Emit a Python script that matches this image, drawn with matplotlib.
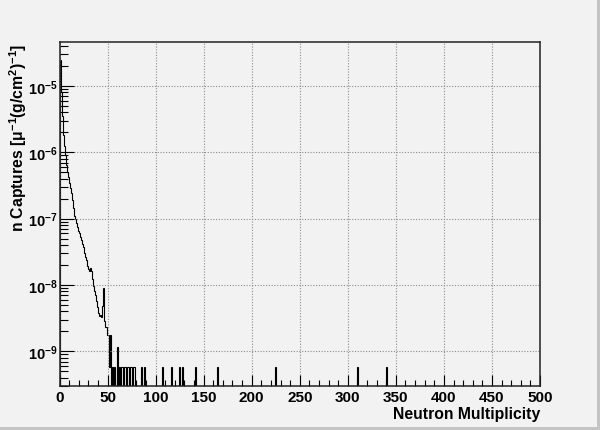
import numpy as np
import matplotlib
matplotlib.use("Agg")
import matplotlib.pyplot as plt
from matplotlib.ticker import LogLocator, MultipleLocator, FixedLocator
from matplotlib.patches import Rectangle

plt.rcParams['font.family'] = ['Liberation Sans', 'DejaVu Sans']
plt.rcParams['font.weight'] = 'bold'
plt.rcParams['mathtext.fontset'] = 'custom'
plt.rcParams['mathtext.rm'] = 'Liberation Sans:bold'
plt.rcParams['mathtext.bf'] = 'Liberation Sans:bold'
plt.rcParams['mathtext.it'] = 'Liberation Sans:bold'

# histogram content, 500 bins of width 1 from 0 to 500
n_bins = 500
x_lo, x_hi = 0, 500

# dense part of the spectrum, bins 0..50
dense_values = [
    0.0, 2.5e-5, 8.0e-6, 3.5e-6, 1.8e-6, 1.25e-6, 9.0e-7, 6.5e-7, 5.0e-7, 4.2e-7,
    3.4e-7, 2.9e-7, 2.4e-7, 1.9e-7, 1.45e-7, 1.1e-7, 1.0e-7, 8.7e-8, 7.6e-8, 6.6e-8,
    6.0e-8, 5.2e-8, 4.7e-8, 4.2e-8, 3.8e-8, 3.3e-8, 3.0e-8, 2.6e-8, 2.4e-8, 1.9e-8,
    1.75e-8, 1.6e-8, 1.8e-8, 1.65e-8, 1.25e-8, 9.5e-9, 8.0e-9, 7.0e-9, 5.8e-9, 4.7e-9,
    3.8e-9, 3.4e-9, 3.5e-9, 3.3e-9, 4.9e-9, 8.9e-9, 2.9e-9, 2.3e-9, 2.3e-9, 1.74e-9,
    1.74e-9,
]

# sparse tail: single events (and a couple of doubles/triples)
count_unit = 5.8e-10
tail_bins = [51, 52, 53, 55, 57, 60, 62, 64, 65, 67, 68, 70, 71, 73, 74, 77, 78,
             85, 88, 107, 116, 124, 127, 141, 164, 224, 310, 340]
tail_counts = [1, 1, 3, 1, 1, 2, 1, 1, 1, 1, 1, 1, 1, 1, 1, 1, 1,
               1, 1, 1, 1, 1, 1, 1, 1, 1, 1, 1]

y_lo, y_hi = 3.0e-10, 4.55e-5
y_major = [1e-9, 1e-8, 1e-7, 1e-6, 1e-5]
y_major_labels = [r'$10^{-9}$', r'$10^{-8}$', r'$10^{-7}$', r'$10^{-6}$', r'$10^{-5}$']

x_title = "Neutron Multiplicity"
y_title = "n Captures [μ$^{-1}$(g/cm$^{2}$)$^{-1}$]"

values = np.zeros(n_bins)
values[:len(dense_values)] = dense_values
for b, c in zip(tail_bins, tail_counts):
    values[b] = c * count_unit
edges = np.linspace(x_lo, x_hi, n_bins + 1)
# empty bins drop to the frame bottom like ROOT does
drawn = np.where(values > 0, values, y_lo * 1e-3)

bg = '#f2f2f2'
fig = plt.figure(figsize=(6.0, 4.31), dpi=100, facecolor=bg)
ax = fig.add_axes([59.5 / 600, 1 - 387 / 431, 480.5 / 600, 343.7 / 431])
ax.set_facecolor(bg)

ax.stairs(drawn, edges, color='black', linewidth=0.8, baseline=None)

ax.set_yscale('log')
ax.set_xlim(x_lo, x_hi)
ax.set_ylim(y_lo, y_hi)

ax.xaxis.set_major_locator(MultipleLocator(50))
ax.xaxis.set_minor_locator(MultipleLocator(10))
ax.yaxis.set_major_locator(FixedLocator(y_major))
ax.yaxis.set_minor_locator(LogLocator(base=10, subs=np.arange(2, 10), numticks=20))
ax.set_yticklabels(y_major_labels)
ax.yaxis.set_minor_formatter(plt.NullFormatter())

ax.tick_params(axis='x', which='major', direction='in', length=8, width=0.8,
               labelsize=11, pad=3, colors='black')
ax.tick_params(axis='x', which='minor', direction='in', length=4, width=0.8)
ax.tick_params(axis='y', which='major', direction='in', length=10, width=0.8,
               labelsize=10.5, pad=1)
ax.tick_params(axis='y', which='minor', direction='in', length=6, width=0.8)
for lab in ax.get_xticklabels() + ax.get_yticklabels():
    lab.set_fontweight('bold')

ax.grid(True, which='major', color='#8c8c8c', linestyle=(0, (1, 1.5)), linewidth=0.8)
for sp in ax.spines.values():
    sp.set_color('#222222')
    sp.set_linewidth(1.1)

ax.text(1.0, -0.094, x_title, transform=ax.transAxes, ha='right', va='baseline',
        fontsize=11.3, fontweight='bold')
ax.text(-0.087, 1.0, y_title, transform=ax.transAxes, rotation=90, ha='center',
        va='top', fontsize=11.3, fontweight='bold')

# canvas bevel on the right and bottom
fig.patches.append(Rectangle((597 / 600, 0), 3 / 600, 1, transform=fig.transFigure,
                             facecolor='#c4c4c4', edgecolor='none'))
fig.patches.append(Rectangle((0, 0), 1, 3 / 431, transform=fig.transFigure,
                             facecolor='#c4c4c4', edgecolor='none'))

fig.savefig('out.png', dpi=100, facecolor=bg)
